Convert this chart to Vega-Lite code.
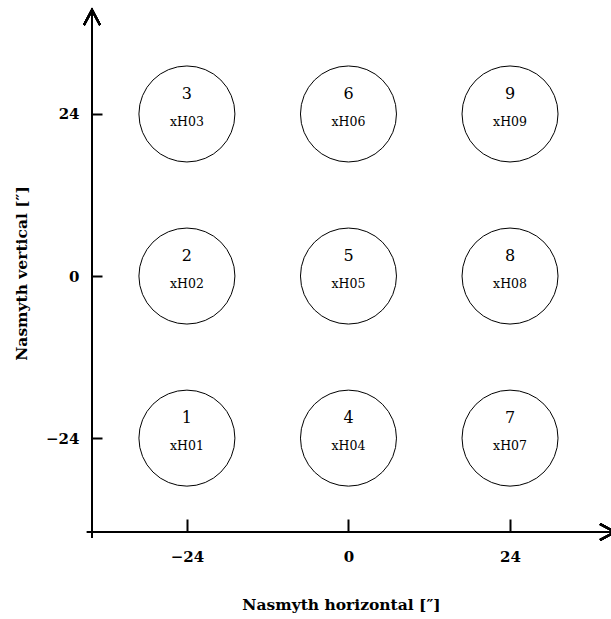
{
  "$schema": "https://vega.github.io/schema/vega-lite/v6.json",
  "width": 519,
  "height": 520,
  "autosize": {"type": "none"},
  "padding": {"left": 92, "top": 12, "right": 0, "bottom": 87},
  "background": "white",
  "config": {
    "view": {"stroke": null},
    "axis": {
      "domain": false,
      "grid": false,
      "tickColor": "black",
      "tickWidth": 2,
      "labelColor": "black",
      "labelFont": "DejaVu Serif",
      "labelFontWeight": "bold",
      "labelFontSize": 15,
      "titleColor": "black",
      "titleFont": "DejaVu Serif",
      "titleFontWeight": "bold",
      "titleFontSize": 15.5
    }
  },
  "data": {
    "values": [
      {"h": -24, "v": -24, "num": "1", "name": "xH01"},
      {"h": -24, "v": 0, "num": "2", "name": "xH02"},
      {"h": -24, "v": 24, "num": "3", "name": "xH03"},
      {"h": 0, "v": -24, "num": "4", "name": "xH04"},
      {"h": 0, "v": 0, "num": "5", "name": "xH05"},
      {"h": 0, "v": 24, "num": "6", "name": "xH06"},
      {"h": 24, "v": -24, "num": "7", "name": "xH07"},
      {"h": 24, "v": 0, "num": "8", "name": "xH08"},
      {"h": 24, "v": 24, "num": "9", "name": "xH09"}
    ]
  },
  "encoding": {
    "x": {
      "field": "h", "type": "quantitative",
      "scale": {"domain": [-38.1, 39.0], "nice": false, "zero": false},
      "axis": {
        "values": [-24, 0, 24],
        "tickSize": -13,
        "labelPadding": 42,
        "labelBaseline": "alphabetic",
        "title": "Nasmyth horizontal [″]",
        "titleX": 249,
        "titleY": 77,
        "titleAnchor": null,
        "titleAlign": "center",
        "titleBaseline": "alphabetic"
      }
    },
    "y": {
      "field": "v", "type": "quantitative",
      "scale": {"domain": [-37.9, 39.1], "nice": false, "zero": false},
      "axis": {
        "values": [-24, 0, 24],
        "tickSize": -10,
        "labelPadding": 23,
        "title": "Nasmyth vertical [″]",
        "titleX": -66,
        "titleY": 261,
        "titleAngle": -90,
        "titleAlign": "center",
        "titleBaseline": "alphabetic"
      }
    }
  },
  "layer": [
    {
      "mark": {"type": "point", "shape": "circle", "size": 9216, "filled": false, "stroke": "black", "strokeWidth": 1, "opacity": 1}
    },
    {
      "mark": {"type": "text", "font": "DejaVu Serif", "fontSize": 16, "baseline": "alphabetic", "dy": -15, "color": "black"},
      "encoding": {"text": {"field": "num"}}
    },
    {
      "mark": {"type": "text", "font": "DejaVu Serif", "fontSize": 12.5, "baseline": "alphabetic", "dy": 12, "color": "black"},
      "encoding": {"text": {"field": "name"}}
    },
    {
      "mark": {"type": "rule", "color": "black", "strokeWidth": 2},
      "encoding": {"x": {"datum": -38.85}, "x2": {"datum": 39.6}, "y": {"datum": -37.9}}
    },
    {
      "mark": {"type": "rule", "color": "black", "strokeWidth": 2},
      "encoding": {"x": {"datum": -38.1}, "y": {"datum": -38.8}, "y2": {"datum": 39.4}}
    },
    {
      "mark": {"type": "point", "shape": "M-1.875,-1L0,0L-1.875,1", "size": 256, "filled": false, "stroke": "black", "strokeWidth": 2, "opacity": 1},
      "encoding": {"x": {"datum": 39.6}, "y": {"datum": -37.9}}
    },
    {
      "mark": {"type": "point", "shape": "M-1,1.875L0,0L1,1.875", "size": 256, "filled": false, "stroke": "black", "strokeWidth": 2, "opacity": 1},
      "encoding": {"x": {"datum": -38.1}, "y": {"datum": 39.4}}
    }
  ]
}
